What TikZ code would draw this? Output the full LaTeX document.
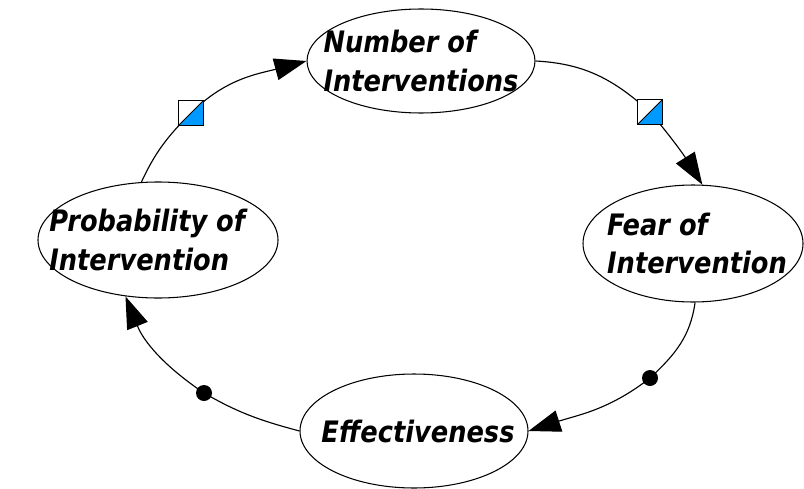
\documentclass[tikz,border=0pt]{standalone}
\usepackage{fontspec}
\usepackage{tikz}
\usetikzlibrary{shapes.geometric}
\usetikzlibrary{arrows.meta}

\newfontfamily\loopfont{DejaVu Sans}[FakeStretch=0.87]
\definecolor{sqblue}{RGB}{0,153,255}

\begin{document}
\begin{tikzpicture}[
        var/.style = {ellipse, draw, line width=0.75pt, inner sep=0pt},
        txt/.style = {align=left, inner sep=0pt, font=\loopfont\bfseries\itshape\fontsize{21}{27.5}\selectfont},
        link/.style = {line width=0.8pt, -{Triangle[length=8mm,width=5.5mm]}},
        sq/.style = {draw, line width=0.6pt, fill=white, minimum size=6.25mm, inner sep=0pt,
            path picture={
                \fill[sqblue] (path picture bounding box.south west) -- (path picture bounding box.south east)
                    -- (path picture bounding box.north east) -- cycle;
                \draw[line width=0.6pt] (path picture bounding box.south west) -- (path picture bounding box.north east);
            }},
        dot/.style = {circle, fill=black, minimum size=#1, inner sep=0pt, outer sep=0pt},
        dot/.default = 4mm,
    ]
    \useasboundingbox (0,0) rectangle (20.1,12.2);

    % variables
    \node[var, minimum width=5.7cm, minimum height=2.6cm] (num) at (10.525,10.675) {};
    \node[var, minimum width=5.5cm, minimum height=2.925cm] (fear) at (17.325,6.1125) {};
    \node[var, minimum width=5.7cm, minimum height=2.85cm] (eff) at (10.35,1.425) {};
    \node[var, minimum width=6.0cm, minimum height=2.9cm] (prob) at (3.95,6.2) {};

    \node[txt] (num-t) at (num) {Number of\\Interventions};
    \node[txt] (fear-t) at ([xshift=0.1cm]fear.center) {Fear of\\Intervention};
    \node[txt] (eff-t) at ([xshift=0.1cm]eff.center) {Effectiveness};
    \node[txt] (prob-t) at ([xshift=-0.27cm]prob.center) {Probability of\\Intervention};

    % points where the markers sit
    \coordinate (c1) at (4.775,9.375);
    \coordinate (c2) at (16.25,9.4);
    \coordinate (c3) at (16.25,2.75);
    \coordinate (c4) at (5.1,2.375);

    % links
    \draw[link] (prob.106) to[out=65,in=225] (c1) to[out=45,in=195] (num.west);
    \draw[link] (num.east) to[out=-3,in=138] (c2) to[out=-50,in=122] (fear.81);
    \draw[link] (fear.-88) to[out=-98,in=43] (c3) to[out=-142,in=18] (eff.east);
    \draw[link] (eff.west) to[out=165,in=-30] (c4) to[out=146,in=-68] (prob.240);

    % markers
    \node[sq] (sq1) at (c1) {};
    \node[sq] (sq2) at (c2) {};
    \node[dot] (dot1) at (c3) {};
    \node[dot] (dot2) at (c4) {};
\end{tikzpicture}
\end{document}
